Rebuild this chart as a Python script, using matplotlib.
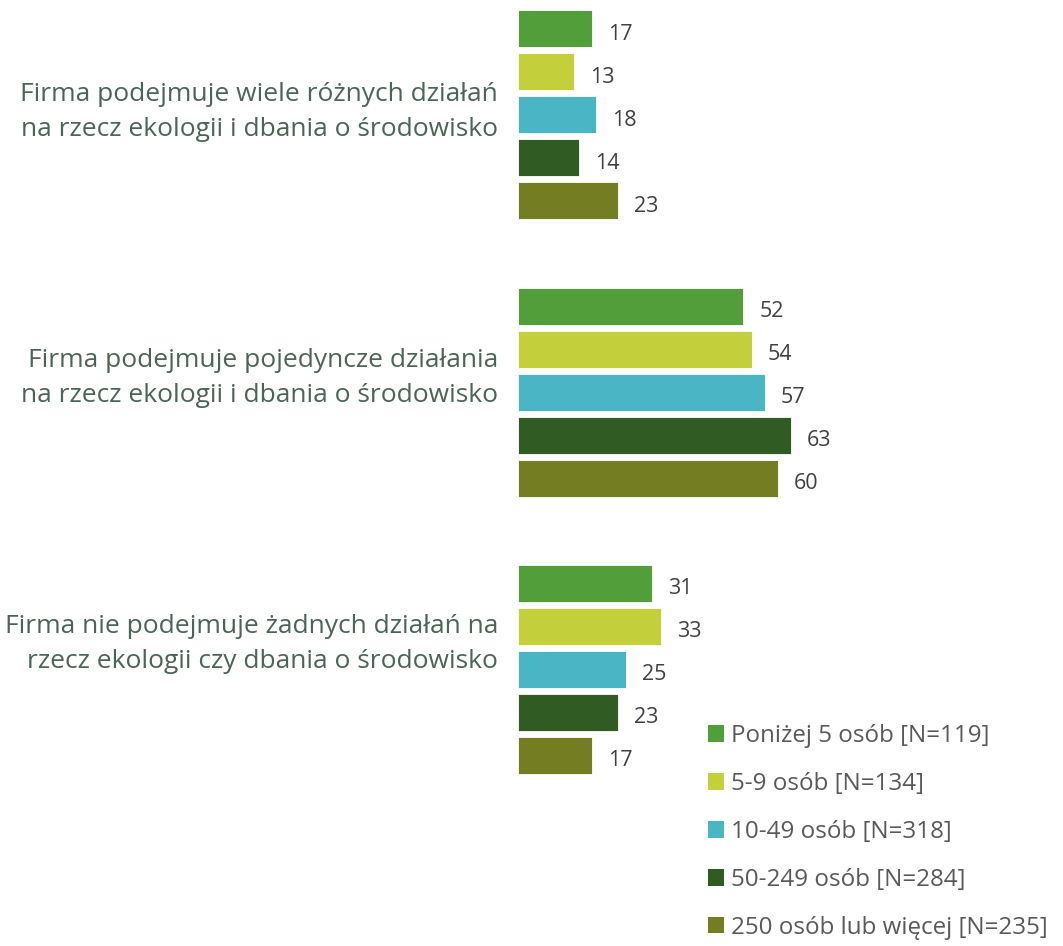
import matplotlib

matplotlib.use("Agg")
import matplotlib.pyplot as plt
from matplotlib.patches import Patch

plt.rcParams["font.family"] = ["Open Sans", "DejaVu Sans"]

# Survey answers (%), one row per statement, one column per company size
categories = [
    "Firma podejmuje wiele różnych działań\nna rzecz ekologii i dbania o środowisko",
    "Firma podejmuje pojedyncze działania\nna rzecz ekologii i dbania o środowisko",
    "Firma nie podejmuje żadnych działań na\nrzecz ekologii czy dbania o środowisko",
]
series_labels = [
    "Poniżej 5 osób [N=119]",
    "5-9 osób [N=134]",
    "10-49 osób [N=318]",
    "50-249 osób [N=284]",
    "250 osób lub więcej [N=235]",
]
values = [
    [17, 13, 18, 14, 23],
    [52, 54, 57, 63, 60],
    [31, 33, 25, 23, 17],
]
colors = ["#529e3a", "#c3cf3b", "#4ab5c5", "#305c24", "#747d22"]

W, H = 1063, 946
fig = plt.figure(figsize=(W / 100, H / 100), dpi=100)
left = 518
ax = fig.add_axes([left / W, 0, 1 - left / W, 1])
px_per_unit = 4.33
ax.set_xlim(0, (W - left) / px_per_unit)
ax.set_ylim(H, 0)
ax.axis("off")

# y layout in pixels from the top edge
group_pitch, bar_pitch, bar_h, top = 277, 43, 37, 29
label_top, label_pitch = 112, 266

for g, row in enumerate(values):
    for s, v in enumerate(row):
        y = top + g * group_pitch + s * bar_pitch
        ax.barh(y, v, height=bar_h, color=colors[s], edgecolor="white", linewidth=0.6)
        ax.annotate(str(v), (v, y), xytext=(16, -11), textcoords="offset pixels",
                    ha="left", va="baseline", fontsize=15.5, color="#404040")
    ax.annotate(categories[g], (0, label_top + g * label_pitch), xytext=(-20, 0),
                textcoords="offset pixels", ha="right", va="center",
                fontsize=19, color="#4b6455", linespacing=1.55)

handles = [Patch(facecolor=c, edgecolor="none") for c in colors]
fig.legend(handles, series_labels, loc="upper left",
           bbox_to_anchor=(708 / W, 1 - 724 / H), frameon=False, borderpad=0,
           borderaxespad=0, fontsize=17.4, labelcolor="#595959",
           handlelength=0.67, handleheight=0.67, handletextpad=0.3,
           labelspacing=0.99)

fig.savefig("out.png", dpi=100, facecolor="white")
